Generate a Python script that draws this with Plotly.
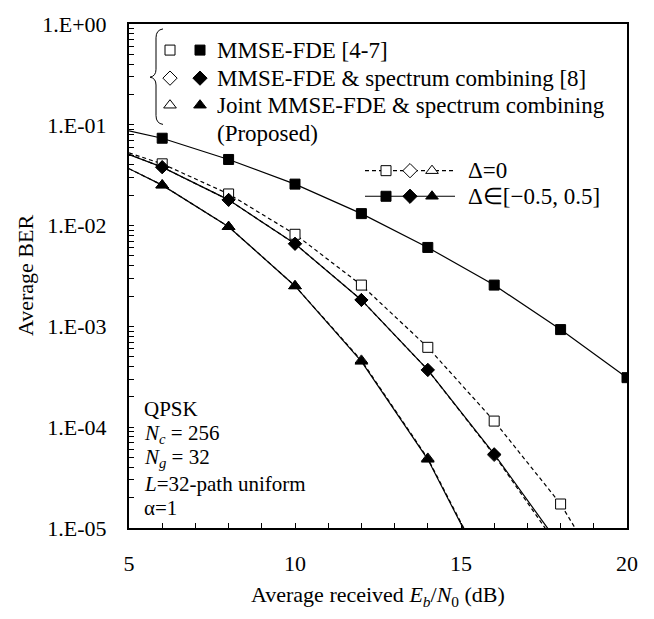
import plotly.graph_objects as go

# ---------------- data ----------------
snr_fde = [5, 6, 8, 10, 12, 14, 16, 18, 20]
ber_fde_d0 = [0.0526, 0.041, 0.0206, 0.0082, 0.00257, 6.2e-04, 1.15e-04, 1.73e-05, 1.4e-06]
ber_fde_d05 = [0.087, 0.0736, 0.0453, 0.0258, 0.01315, 0.00607, 0.00257, 9.3e-04, 3.1e-04]

snr_sc = [5, 6, 8, 10, 12, 14, 16, 18]
ber_sc_d0 = [0.051, 0.038, 0.018, 0.0066, 0.00183, 3.7e-04, 5.3e-05, 6.0e-06]
ber_sc_d05 = [0.0507, 0.038, 0.018, 0.0066, 0.00183, 3.7e-04, 5.4e-05, 6.6e-06]

snr_joint = [5, 6, 8, 10, 12, 14, 16]
ber_joint_d0 = [0.0367, 0.0252, 0.00975, 0.00252, 4.6e-04, 4.9e-05, 2.6e-06]
ber_joint_d05 = [0.0367, 0.0252, 0.00975, 0.00252, 4.5e-04, 4.8e-05, 2.5e-06]

x_ticks = [5, 10, 15, 20]
y_tick_labels = ["1.E-05", "1.E-04", "1.E-03", "1.E-02", "1.E-01", "1.E+00"]

legend_rows = ["MMSE-FDE [4-7]", "MMSE-FDE &amp; spectrum combining [8]",
               "Joint MMSE-FDE &amp; spectrum combining", "(Proposed)"]
delta_labels = ["Δ=0", "Δ∈[−0.5, 0.5]"]
param_lines = ["QPSK", "<i>N</i><sub><i>c</i></sub> = 256", "<i>N</i><sub><i>g</i></sub> = 32",
               "<i>L</i>=32-path uniform", "α=1"]
x_title = "Average received <i>E</i><sub><i>b</i></sub>/<i>N</i><sub>0</sub> (dB)"
y_title = "Average BER"

# ---------------- styling ----------------
FONT = "Liberation Serif, serif"
W, H = 654, 619
L, R, T, B = 129, 27, 16, 91
PW, PH = W - L - R, H - T - B
YMIN, YMAX = 1e-5, 1.0

fig = go.Figure()

series = [
    (snr_fde, ber_fde_d0, "square", 10, True, "dash"),
    (snr_sc, ber_sc_d0, "diamond", 10, True, "dash"),
    (snr_joint, ber_joint_d0, "triangle-up", 11, True, "dash"),
    (snr_fde, ber_fde_d05, "square", 10, False, "solid"),
    (snr_sc, ber_sc_d05, "diamond", 10, False, "solid"),
    (snr_joint, ber_joint_d05, "triangle-up", 11, False, "solid"),
]

# lines first
for xs, ys, sym, sz, is_open, dash in series:
    fig.add_trace(go.Scatter(x=xs, y=ys, mode="lines",
                             line=dict(color="black", width=1.2,
                                       dash="4px,3px" if dash == "dash" else "solid"),
                             showlegend=False, hoverinfo="skip"))

# markers (skip the 5 dB line-start point and points below axis)
for xs, ys, sym, sz, is_open, dash in sorted(series, key=lambda s: not s[4]):
    mx = [x for x, y in zip(xs, ys) if x != 5 and y >= YMIN]
    my = [y for x, y in zip(xs, ys) if x != 5 and y >= YMIN]
    fig.add_trace(go.Scatter(x=mx, y=my, mode="markers",
                             marker=dict(symbol=sym, size=sz,
                                         color="white" if is_open else "black",
                                         line=dict(color="black", width=1)),
                             showlegend=False, hoverinfo="skip"))

# ---------------- custom legend (pixel overlay axes) ----------------
px_x = [L, W - R]
px_y = [H - B, T]
syms = ["square", "diamond", "triangle-up"]
sym_sizes = [10, 11, 11]


def glyph(x, y, sym, sz, is_open):
    fig.add_trace(go.Scatter(x=[x], y=[y], mode="markers", xaxis="x2", yaxis="y2",
                             marker=dict(symbol=sym, size=sz,
                                         color="white" if is_open else "black",
                                         line=dict(color="black", width=1)),
                             showlegend=False, hoverinfo="skip", cliponaxis=False))


row_y = [42.5, 71, 98.5, 127]
for i, (sym, sz) in enumerate(zip(syms, sym_sizes)):
    glyph(170, row_y[i], sym, sz, True)
    glyph(200, row_y[i], sym, sz, False)

annotations = []
for i, txt in enumerate(legend_rows):
    annotations.append(dict(x=215, y=row_y[i], xref="x2", yref="y2", text=txt,
                            showarrow=False, xanchor="left", yanchor="middle",
                            font=dict(family=FONT, size=23, color="black")))

shapes = [dict(type="path", xref="x2", yref="y2", layer="below",
               path="M 163 21 Q 156 22 156 30 L 156 62 Q 156 69 150 70 Q 156 71 156 78 "
                    "L 156 109 Q 156 117 163 118",
               line=dict(color="black", width=1))]

# delta legend
d_rows = [165, 191]
d_x = [386, 410, 432]
shapes.append(dict(type="line", xref="x2", yref="y2", x0=365, x1=455, y0=d_rows[0], y1=d_rows[0],
                   layer="below", line=dict(color="black", width=1.2, dash="4px,3px")))
shapes.append(dict(type="line", xref="x2", yref="y2", x0=365, x1=455, y0=d_rows[1], y1=d_rows[1],
                   layer="below", line=dict(color="black", width=1.2)))
for r, is_open in zip(d_rows, [True, False]):
    for xx, sym, sz in zip(d_x, syms, sym_sizes):
        glyph(xx, r, sym, sz, is_open)
for r, txt in zip(d_rows, delta_labels):
    annotations.append(dict(x=466, y=r, xref="x2", yref="y2", text=txt, showarrow=False,
                            xanchor="left", yanchor="middle",
                            font=dict(family=FONT, size=23, color="black")))

# parameter block
p_y = [407, 432, 457, 483, 508]
for yy, txt in zip(p_y, param_lines):
    annotations.append(dict(x=142, y=yy, xref="x2", yref="y2", text=txt, showarrow=False,
                            xanchor="left", yanchor="middle",
                            font=dict(family=FONT, size=21, color="black")))

# axis titles (paper coordinates so they are drawn outside the plot area)
annotations.append(dict(x=0.5, y=-(597 - (H - B)) / PH, xref="paper", yref="paper",
                        text=x_title, showarrow=False, xanchor="center", yanchor="middle",
                        font=dict(family=FONT, size=22, color="black")))
annotations.append(dict(x=(25 - L) / PW, y=0.5, xref="paper", yref="paper", text=y_title,
                        textangle=-90, showarrow=False, xanchor="center", yanchor="middle",
                        font=dict(family=FONT, size=22, color="black")))

# ---------------- axes ----------------
x_tickvals = list(range(x_ticks[0], x_ticks[-1] + 1))
x_ticktext = [str(v) if v in x_ticks else "" for v in x_tickvals]

y_tickvals, y_ticktext = [], []
for e in range(-5, 1):
    for m in range(1, 10):
        v = m * 10.0 ** e
        if v > YMAX * 1.0001:
            break
        y_tickvals.append(v)
        y_ticktext.append(y_tick_labels[e + 5] if m == 1 else "")

fig.update_layout(
    width=W, height=H,
    margin=dict(l=L, r=R, t=T, b=B, pad=0),
    paper_bgcolor="white", plot_bgcolor="white",
    font=dict(family=FONT, size=22, color="black"),
    xaxis=dict(range=[5, 20], tickmode="array", tickvals=x_tickvals, ticktext=x_ticktext,
               ticks="inside", ticklen=5, tickwidth=1, tickcolor="black",
               showline=True, linewidth=2, linecolor="black", mirror=True,
               showgrid=False, zeroline=False, ticklabelstandoff=15,
               tickfont=dict(family=FONT, size=22, color="black")),
    yaxis=dict(type="log", range=[-5, 0], tickmode="array", tickvals=y_tickvals,
               ticktext=y_ticktext, ticks="inside", ticklen=5, tickwidth=1, tickcolor="black",
               showline=True, linewidth=2, linecolor="black", mirror=True,
               showgrid=False, zeroline=False, ticklabelstandoff=16,
               tickfont=dict(family=FONT, size=22, color="black")),
    xaxis2=dict(overlaying="x", range=px_x, visible=False, fixedrange=True),
    yaxis2=dict(overlaying="y", range=px_y, visible=False, fixedrange=True),
    annotations=annotations,
    shapes=shapes,
    showlegend=False,
)

fig.write_html("out.html")
